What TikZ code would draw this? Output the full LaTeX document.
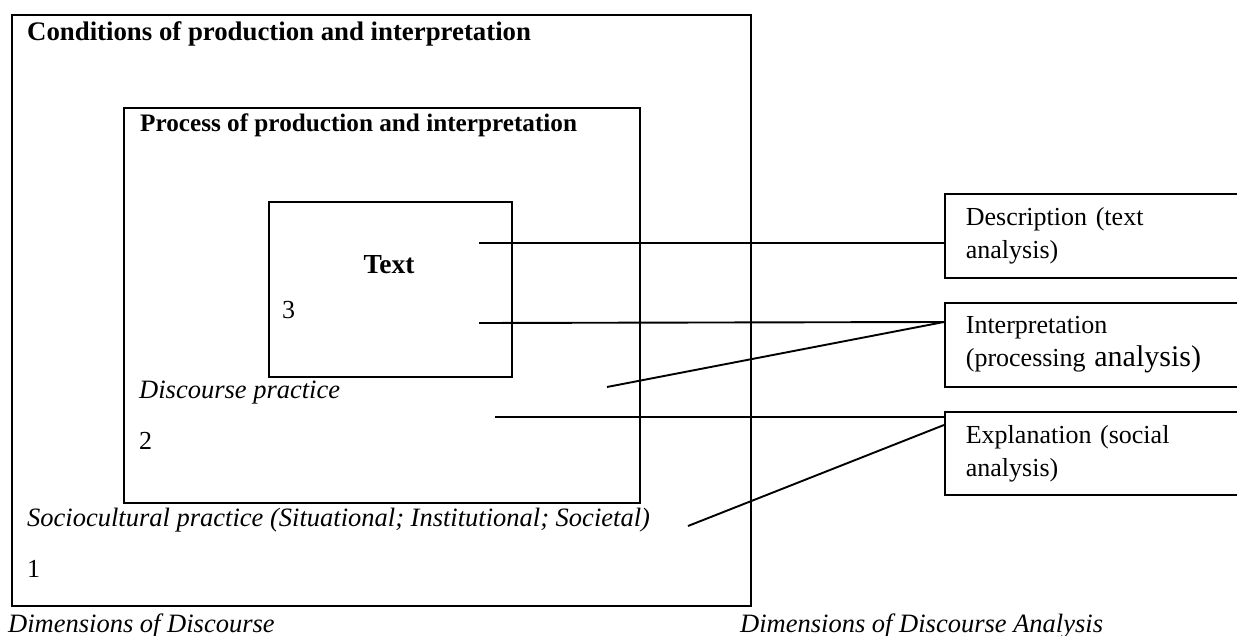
\documentclass[tikz,border=0pt]{standalone}
\usepackage{fontspec}
\setmainfont{Liberation Serif}
\begin{document}
\begin{tikzpicture}[x=1pt,y=-1pt,
  frame/.style={draw, line width=1.7pt, inner sep=0pt, anchor=north west},
  rbox/.style={draw, line width=1.7pt, anchor=north west, minimum width=310pt,
    minimum height=84pt, text width=268pt, inner xsep=21pt, inner ysep=0pt, align=left,
    font=\fontsize{26}{33}\selectfont},
  conn/.style={line width=1.9pt},
  lbl/.style={anchor=west, inner sep=0pt, font=\fontsize{26}{30}\selectfont},
  hdr/.style={anchor=west, inner sep=0pt, font=\fontsize{25.2}{30}\selectfont\bfseries},
  itl/.style={anchor=west, inner sep=0pt, font=\fontsize{26.5}{30}\selectfont\itshape}
]
\useasboundingbox (0,0) rectangle (1237,636);
\begin{scope}
\clip (0,0) rectangle (1237,636);
% boxes
\node[frame, minimum width=739pt, minimum height=591pt] (outer) at (11,14) {};
\node[frame, minimum width=516pt, minimum height=395pt] (middle) at (123,107) {};
\node[frame, minimum width=243pt, minimum height=175pt] (inner) at (268,201) {};

% labels in the nested boxes
\node[hdr, font=\fontsize{26.8}{30}\selectfont\bfseries] (t1) at (27,34) {Conditions of production and interpretation};
\node[hdr] (t2) at (140,125) {Process of production and interpretation};
\node[hdr, anchor=center, font=\fontsize{27.5}{30}\selectfont\bfseries] (t3) at (389,265) {Text};
\node[lbl] (n3) at (282,310) {3};
\node[itl] (dp) at (139,393) {Discourse practice};
\node[lbl] (n2) at (139,441) {2};
\node[itl] (sp) at (27,520) {Sociocultural practice (Situational; Institutional; Societal)};
\node[lbl] (n1) at (27,569) {1};
\node[itl] (cap1) at (8,626) {Dimensions of Discourse};
\node[itl] (cap2) at (740,626) {Dimensions of Discourse Analysis};

% right-hand boxes
\node[rbox, minimum height=84pt] (desc) at (944,193) {Description (text\\analysis)};
\node[rbox, minimum height=84pt] (interp) at (944,302) {Interpretation\\(processing {\fontsize{30}{33}\selectfont analysis)}};
\node[rbox, minimum height=83pt] (expl) at (944,411) {Explanation (social\\analysis)};

% connector start points
\coordinate (s1) at (479,243);
\coordinate (s2) at (479,323);
\coordinate (s3) at (607,387);
\coordinate (s4) at (495,417);
\coordinate (s5) at (688,526);

\draw[conn] (s1) -- (desc.west |- s1);
\draw[conn] (s2) -- ([yshift=-20pt]interp.north west);
\draw[conn] (s3) -- ([yshift=-20pt]interp.north west);
\draw[conn] (s4) -- (expl.west |- s4);
\draw[conn] (s5) -- ([yshift=-14pt]expl.north west);
\end{scope}
\end{tikzpicture}
\end{document}
